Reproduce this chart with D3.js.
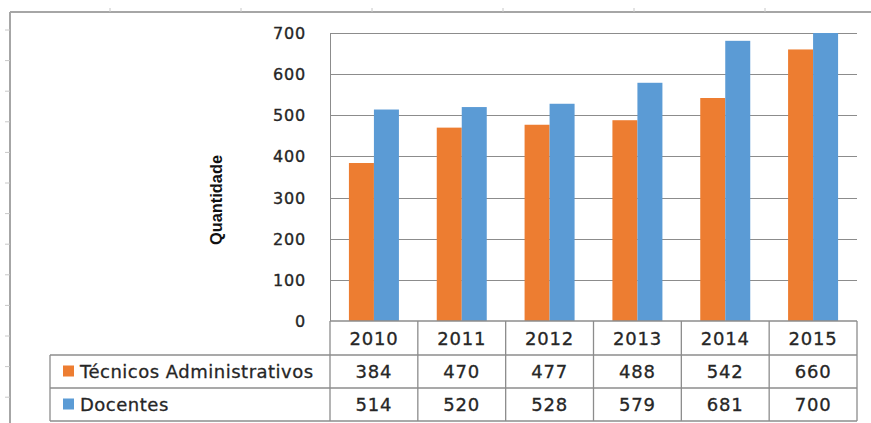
<!DOCTYPE html>
<html><head><meta charset="utf-8">
<script src="https://cdn.jsdelivr.net/npm/d3@7"></script>
<style>body{margin:0;background:#fff}svg{display:block}</style>
</head><body>
<script>
const years = ["2010","2011","2012","2013","2014","2015"];
const seriesNames = ["Técnicos Administrativos","Docentes"];
const tecnicos = [384,470,477,488,542,660];
const docentes = [514,520,528,579,681,700];
const colors = ["#ED7D31","#5B9BD5"];
const yTicks = [0,100,200,300,400,500,600,700];
const seriesValues = [tecnicos, docentes];

const W = 871, H = 423;
const svg = d3.select("body").append("svg").attr("width",W).attr("height",H);
const frame = "#a6a6a6", grid = "#8c8c8c", txt = "#262626";

// outer frame & decorative ticks
svg.append("line").attr("x1",10).attr("x2",W).attr("y1",12).attr("y2",12).attr("stroke",frame).attr("stroke-width",2);
svg.append("line").attr("x1",10).attr("x2",10).attr("y1",12).attr("y2",H).attr("stroke",frame).attr("stroke-width",2);
svg.selectAll(".lt").data(d3.range(13)).join("line").attr("x1",5).attr("x2",10)
  .attr("y1",d=>30+d*30.6).attr("y2",d=>30+d*30.6).attr("stroke","#c8c8c8");
svg.selectAll(".tt").data(d3.range(6)).join("line").attr("y1",8).attr("y2",12)
  .attr("x1",d=>110+d*131).attr("x2",d=>110+d*131).attr("stroke","#c8c8c8");

const x0 = d3.scaleBand().domain(years).range([330,857]).padding(0);
const xs = d3.scaleBand().domain(seriesNames).range([0,50]);
const y = d3.scaleLinear().domain([0,700]).range([321,33]);

// gridlines
svg.append("g").selectAll("line").data(yTicks.slice(1)).join("line")
  .attr("x1",330).attr("x2",857).attr("y1",d=>Math.round(y(d))+0.5).attr("y2",d=>Math.round(y(d))+0.5)
  .attr("stroke",grid).attr("stroke-width",1);
svg.append("line").attr("x1",330.5).attr("x2",330.5).attr("y1",y(700)).attr("y2",321).attr("stroke",grid);

// y labels
svg.append("g").selectAll("text").data(yTicks).join("text")
  .attr("x",306).attr("y",d=>y(d)+6).attr("text-anchor","end")
  .attr("font-family","DejaVu Sans").attr("font-size",16).attr("letter-spacing",0.8).attr("fill",txt)
  .attr("stroke",txt).attr("stroke-width",0.35)
  .text(d=>d);

svg.append("text").attr("transform","translate(222,200) rotate(-90)")
  .attr("text-anchor","middle").attr("font-family","Liberation Sans Narrow, Liberation Sans").attr("font-weight","bold")
  .attr("font-size",16).attr("textLength",90).attr("lengthAdjust","spacingAndGlyphs").attr("fill","#111").text("Quantidade");

// bars
const off = (x0.bandwidth()-50)/2;
seriesValues.forEach((vals,si)=>{
  svg.append("g").selectAll("rect").data(vals).join("rect")
    .attr("x",(d,i)=>x0(years[i])+off+xs(seriesNames[si]))
    .attr("width",xs.bandwidth())
    .attr("y",d=>y(d)).attr("height",d=>y(0)-y(d))
    .attr("fill",colors[si]);
});

// data table
const rowY = [321,355,388,421];
const tg = svg.append("g").attr("stroke",grid).attr("stroke-width",1.3);
tg.append("line").attr("x1",330).attr("x2",857).attr("y1",321).attr("y2",321);
rowY.slice(1).forEach(yy=>tg.append("line").attr("x1",50).attr("x2",857).attr("y1",yy).attr("y2",yy));
tg.append("line").attr("x1",50).attr("x2",50).attr("y1",355).attr("y2",421);
years.concat(["end"]).forEach((yr,i)=>{
  const xx = i<years.length ? x0(yr) : 857;
  tg.append("line").attr("x1",xx).attr("x2",xx).attr("y1",321).attr("y2",421);
});

const tf = {"font-family":"DejaVu Sans","font-size":18,"fill":txt,"stroke":txt,"stroke-width":0.3};
function styled(sel){Object.entries(tf).forEach(([k,v])=>sel.attr(k,v));return sel;}
styled(svg.append("g").selectAll("text").data(years).join("text")
  .attr("x",d=>x0(d)+x0.bandwidth()/2).attr("y",345).attr("text-anchor","middle").attr("letter-spacing",0.8).text(d=>d));
seriesValues.forEach((vals,si)=>{
  const cy = (rowY[si+1]+rowY[si+2])/2+6.5;
  styled(svg.append("g").selectAll("text").data(vals).join("text")
    .attr("x",(d,i)=>x0(years[i])+x0.bandwidth()/2).attr("y",cy).attr("text-anchor","middle").attr("letter-spacing",0.8).text(d=>d));
  svg.append("rect").attr("x",63).attr("y",cy-12.5).attr("width",11).attr("height",11).attr("fill",colors[si]);
  styled(svg.append("text").attr("x",80).attr("y",cy).attr("letter-spacing",0.5).text(seriesNames[si]));
});
</script>
</body></html>
